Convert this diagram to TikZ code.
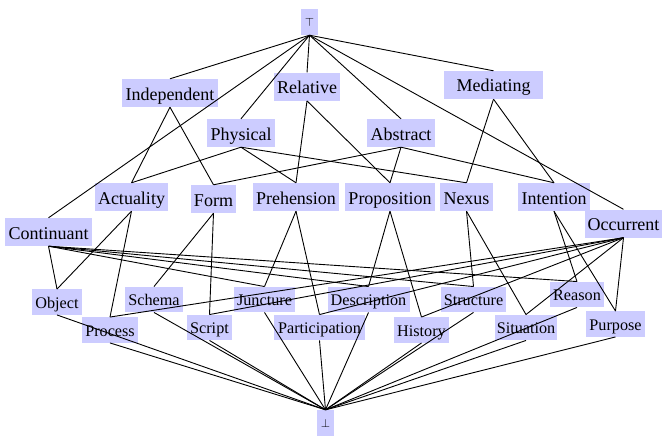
\documentclass[tikz,border=0pt]{standalone}
\usepackage{fontspec}
\setmainfont{Liberation Serif}
\begin{document}
\begin{tikzpicture}[x=1pt,y=-1pt,
  cat/.style={fill=boxfill, inner sep=0pt, minimum height=28pt,
    text height=18pt, text depth=4pt,
    font=\fontsize{18}{18}\selectfont},
  leaf/.style={fill=boxfill, inner sep=0pt, minimum height=25.5pt,
    text height=16pt, text depth=3.4pt,
    font=\fontsize{16.2}{16}\selectfont},
  bound/.style={fill=boxfill, inner sep=0pt, minimum width=17pt,
    minimum height=26pt, font=\fontsize{13}{13}\selectfont},
  link/.style={line width=0.9pt, black}]
\definecolor{boxfill}{RGB}{204,204,255}
\useasboundingbox (0,0) rectangle (662,436);

% top and bottom of the lattice
\node[bound] (top) at (309.5,22) {$\top$};
\node[bound] (bot) at (325.5,423) {$\bot$};

% first level
\node[cat, minimum width=96pt] (independent) at (170,93) {Independent};
\node[cat, minimum width=66pt] (relative) at (307,86.7) {Relative};
\node[cat, minimum width=99pt] (mediating) at (493.5,85) {Mediating};
\node[cat, minimum width=68pt] (physical) at (241,133) {Physical};
\node[cat, minimum width=68pt] (abstract) at (401,133) {Abstract};

% second level
\node[cat, minimum width=73pt] (actuality) at (131.5,197) {Actuality};
\node[cat, minimum width=45pt] (form) at (213.5,199) {Form};
\node[cat, minimum width=86pt] (prehension) at (296,197) {Prehension};
\node[cat, minimum width=90pt] (proposition) at (390,197) {Proposition};
\node[cat, minimum width=53pt] (nexus) at (466.5,197) {Nexus};
\node[cat, minimum width=72pt] (intention) at (554,197) {Intention};
\node[cat, minimum width=87pt] (continuant) at (48.5,232) {Continuant};
\node[cat, minimum width=77pt] (occurrent) at (623.5,223.5) {Occurrent};

% the twelve leaf categories
\node[leaf, minimum width=50pt] (object) at (57,302) {Object};
\node[leaf, minimum width=58pt] (schema) at (154,299.5) {Schema};
\node[leaf, minimum width=61pt] (juncture) at (264.5,299.5) {Juncture};
\node[leaf, minimum width=82pt] (description) at (368.5,299.5) {Description};
\node[leaf, minimum width=65pt] (structure) at (473.5,299.5) {Structure};
\node[leaf, minimum width=54pt] (reason) at (577,294.5) {Reason};
\node[leaf, minimum width=56pt] (process) at (110,330) {Process};
\node[leaf, minimum width=45pt] (script) at (209.5,327.5) {Script};
\node[leaf, minimum width=91pt] (participation) at (319.5,327.5) {Participation};
\node[leaf, minimum width=55pt] (history) at (421.5,330) {History};
\node[leaf, minimum width=62pt] (situation) at (526,327.5) {Situation};
\node[leaf, minimum width=59pt] (purpose) at (615.5,324) {Purpose};

% subtype links, from the bottom of a supertype to the top of a subtype
\foreach \a/\b in {
  top/independent, top/relative, top/physical, top/abstract,
  top/mediating, top/continuant, top/occurrent,
  independent/actuality, independent/form,
  relative/prehension, relative/proposition,
  mediating/nexus, mediating/intention,
  physical/actuality, physical/prehension, physical/nexus,
  abstract/form, abstract/proposition, abstract/intention,
  actuality/object, actuality/process,
  form/schema, form/script,
  prehension/juncture, prehension/participation,
  proposition/description, proposition/history,
  nexus/structure, nexus/situation,
  intention/reason, intention/purpose,
  continuant/object, continuant/juncture, continuant/description,
  continuant/structure, continuant/reason,
  occurrent/process, occurrent/script, occurrent/participation,
  occurrent/history, occurrent/situation, occurrent/purpose}
  \draw[link] (\a.south) -- (\b.north);

% every leaf meets at the bottom element
\foreach \a in {object, schema, juncture, description, structure, reason,
  process, script, participation, history, situation, purpose}
  \draw[link] (\a.south) -- (bot.north);
\end{tikzpicture}
\end{document}
